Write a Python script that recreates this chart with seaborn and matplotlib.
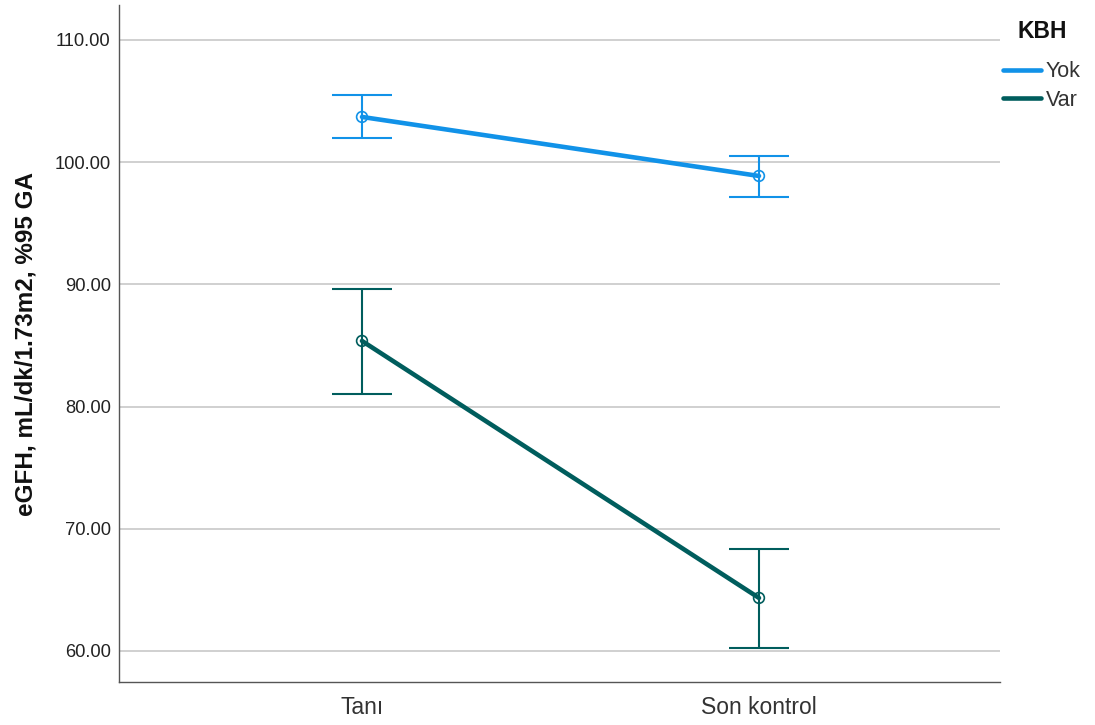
import matplotlib
matplotlib.use("Agg")
import matplotlib.pyplot as plt
import seaborn as sns
import pandas as pd
import numpy as np
from matplotlib.lines import Line2D

# Data
categories = ["Tanı", "Son kontrol"]
groups = ["Yok", "Var"]
yok_mean = [103.7, 98.87]
yok_low = [101.98, 97.15]
yok_high = [105.5, 100.5]
var_mean = [85.37, 64.34]
var_low = [81.03, 60.25]
var_high = [89.62, 68.35]
yticks = [60, 70, 80, 90, 100, 110]

colors = {"Yok": "#1192E8", "Var": "#005D5D"}

df = pd.DataFrame({
    "Zaman": categories * 2,
    "KBH": ["Yok"] * 2 + ["Var"] * 2,
    "eGFH": yok_mean + var_mean,
    "low": yok_low + var_low,
    "high": yok_high + var_high,
})

sns.set_theme(style="white")
plt.rcParams['font.family'] = ['Liberation Sans', 'DejaVu Sans']

fig = plt.figure(figsize=(10.95, 7.25), dpi=100)
ax = fig.add_axes([0.1087, 0.0593, 0.8045, 0.9338])

for y in yticks:
    ax.axhline(y, color="#c8c8c8", lw=1.2, zorder=0)

sns.pointplot(data=df, x="Zaman", y="eGFH", hue="KBH", order=categories,
              hue_order=groups, palette=colors, errorbar=None,
              markers="o", linestyles="-", ax=ax, legend=False,
              markersize=0, linewidth=3.3)

for g in groups:
    sub = df[df["KBH"] == g].set_index("Zaman").loc[categories]
    xs = np.arange(len(categories))
    m = sub["eGFH"].values
    ax.errorbar(xs, m, yerr=[m - sub["low"].values, sub["high"].values - m],
                fmt="none", ecolor=colors[g], elinewidth=1.5, capsize=21.5,
                capthick=1.5, zorder=3)
    ax.scatter(xs, m, s=60, facecolors="none", edgecolors=colors[g],
               linewidths=1.2, zorder=4)

ax.set_xlim(-0.612, 1.607)
ax.set_ylim(57.46, 112.86)
ax.set_yticks(yticks)
ax.set_yticklabels([f"{v:.2f}" for v in yticks], fontsize=13.2, color="#222222")
ax.tick_params(axis="x", labelsize=16.5, length=0, pad=10, labelcolor="#333333")
ax.tick_params(axis="y", length=0, pad=6)
ax.set_xlabel("")
ax.set_ylabel("eGFH, mL/dk/1.73m2, %95 GA", fontsize=17.5, fontweight="bold",
              labelpad=12, color="#111111")

for s in ["top", "right"]:
    ax.spines[s].set_visible(False)
for s in ["left", "bottom"]:
    ax.spines[s].set_color("#555555")
    ax.spines[s].set_linewidth(1.0)

handles = [Line2D([0], [0], color=colors[g], lw=3.3) for g in groups]
leg = fig.legend(handles, groups, title="KBH", loc="upper left",
                 bbox_to_anchor=(1003 / 1095, 1 - 20 / 725), frameon=False,
                 fontsize=15.5, title_fontproperties={"weight": "bold", "size": 16.5},
                 handlelength=1.75, handletextpad=0.25, labelspacing=0.35,
                 borderpad=0, borderaxespad=0)
leg._legend_box.sep = 13
for t in leg.get_texts():
    t.set_color("#333333")
leg.get_title().set_color("#111111")

fig.savefig("out.png", dpi=100)
